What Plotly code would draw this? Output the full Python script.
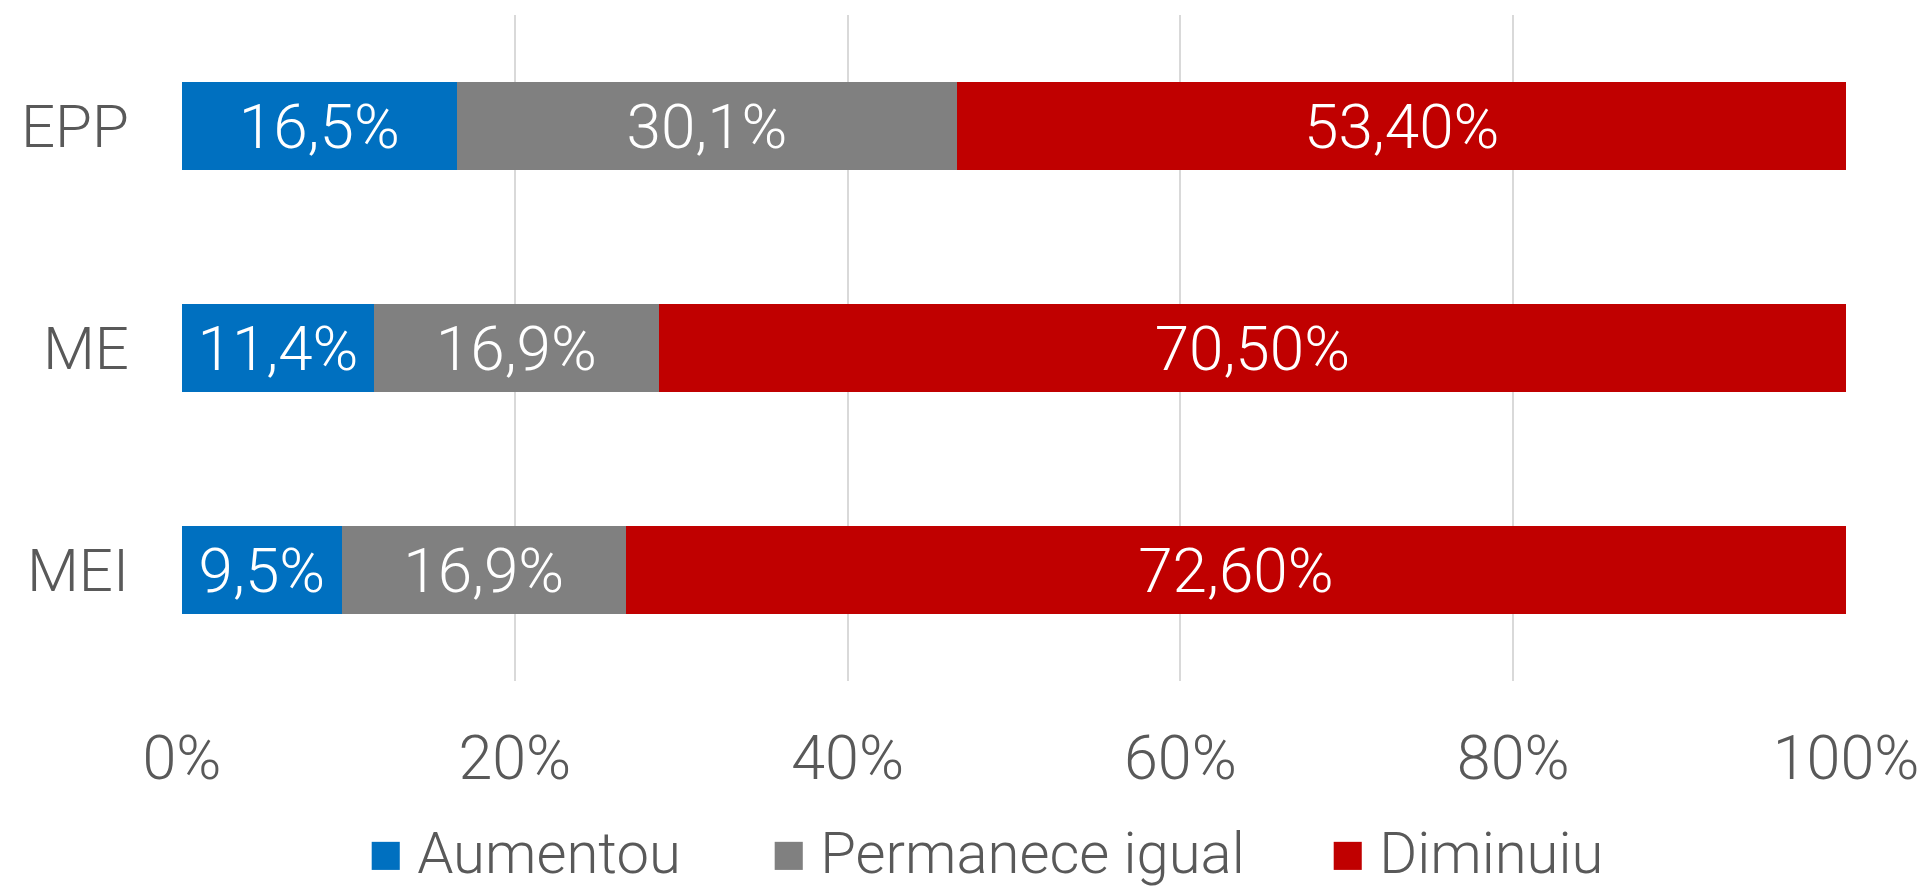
import plotly.graph_objects as go

categories = ["EPP", "ME", "MEI"]
series_names = ["Aumentou", "Permanece igual", "Diminuiu"]
aumentou = [16.5, 11.4, 9.5]
permanece = [30.1, 16.9, 16.9]
diminuiu = [53.4, 70.5, 72.6]
aumentou_txt = ["16,5%", "11,4%", "9,5%"]
permanece_txt = ["30,1%", "16,9%", "16,9%"]
diminuiu_txt = ["53,40%", "70,50%", "72,60%"]
colors = ["#0070C0", "#808080", "#C00000"]
x_ticks = [0, 20, 40, 60, 80, 100]
x_tick_labels = ["0%", "20%", "40%", "60%", "80%", "100%"]

FONT = "Roboto"
W, H = 1928, 889
ML, MR, MT, MB = 174, 90, 7, 216
PW, PH = W - ML - MR, H - MT - MB

fig = go.Figure()
for name, vals, txt, col in zip(series_names, [aumentou, permanece, diminuiu],
                                [aumentou_txt, permanece_txt, diminuiu_txt], colors):
    fig.add_trace(go.Bar(
        y=categories, x=vals, name=name, orientation="h",
        marker=dict(color=col, line=dict(width=0)),
        text=txt, textposition="inside", insidetextanchor="middle",
        constraintext="none", textangle=0,
        textfont=dict(family=FONT, size=62, color="white", weight=300),
        hoverinfo="skip", showlegend=False,
    ))

# Legend drawn as text entries: coloured square glyph + series name
legend_left_px = [358, 761, 1320]
legend_mid_px = 845
for name, col, lx in zip(series_names, colors, legend_left_px):
    fig.add_annotation(
        xref="paper", yref="paper",
        x=(lx - ML) / PW, y=(H - MB - legend_mid_px) / PH,
        xanchor="left", yanchor="middle", showarrow=False,
        text=f'<span style="color:{col};font-family:DejaVu Sans">■</span> {name}',
        font=dict(family=FONT, size=58, color="#595959", weight=300),
    )

fig.update_layout(
    barmode="stack", barnorm="percent", bargap=0.6,
    width=W, height=H,
    margin=dict(l=ML, r=MR, t=MT, b=MB, autoexpand=False),
    paper_bgcolor="white", plot_bgcolor="white",
    font=dict(family=FONT, size=60, color="#595959", weight=300),
    showlegend=False,
)
fig.update_xaxes(range=[0, 100], tickvals=x_ticks, ticktext=x_tick_labels,
                 showgrid=True, gridcolor="#D9D9D9", gridwidth=1.5,
                 zeroline=False, showline=False, ticks="",
                 ticklabelstandoff=36, automargin=False,
                 tickfont=dict(family=FONT, size=61, color="#595959", weight=300),
                 fixedrange=True)
fig.update_yaxes(categoryorder="array", categoryarray=categories, autorange="reversed",
                 showgrid=False, zeroline=False, showline=False, ticks="",
                 ticklabelstandoff=52, automargin=False,
                 tickfont=dict(family=FONT, size=60, color="#595959", weight=300),
                 fixedrange=True)

fig.write_html("out.html")
